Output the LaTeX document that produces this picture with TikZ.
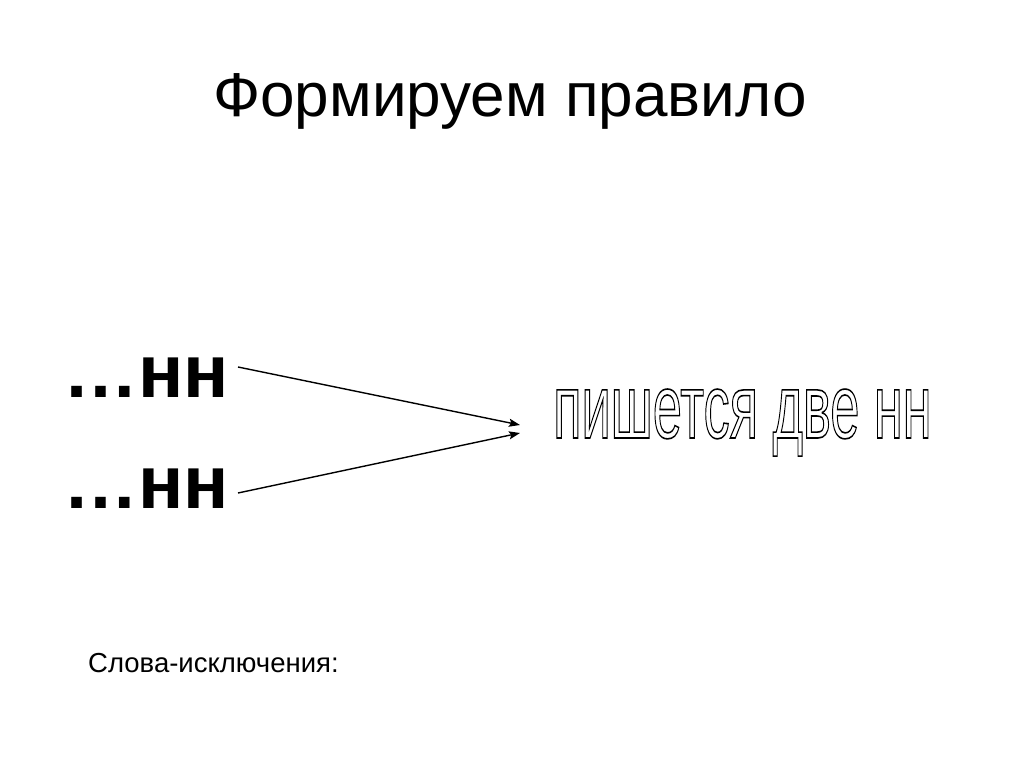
\documentclass[tikz,border=0pt]{standalone}
\usepackage{fontspec}
\setmainfont{Liberation Sans}
\usepackage{graphicx}
\usetikzlibrary{arrows.meta,positioning}

% outlined (hollow) letters
\newcommand{\hollow}[1]{\special{pdf:literal direct 1 Tr 1.6 w}#1\special{pdf:literal direct 0 Tr}}

\tikzset{
	arr/.style={line width=1.4pt,-{Stealth[length=11pt,width=8pt,inset=2pt]}},
	title/.style={font=\fontsize{62}{64}\selectfont,anchor=base,inner sep=0pt},
	ending/.style={font=\fontsize{75}{78}\selectfont\bfseries,anchor=base west,inner sep=0pt},
}

\begin{document}
\begin{tikzpicture}[x=1pt,y=-1pt]
	\useasboundingbox (0,0) rectangle (1024,767);

	\node[title] (head) at (510,117) {Формируем правило};

	\node[ending] (top) at (63,397) {…нн};
	\node[ending] (bot) at (63,508) {…нн};

	\node[anchor=base west,inner sep=0pt,font=\fontsize{91}{93}\selectfont] (rule) at (553,438)
		{\scalebox{0.575}[1]{\hollow{пишется две нн}}};

	\node[anchor=base west,inner sep=0pt,font=\fontsize{27.5}{29}\selectfont] (excl) at (88,672) {Слова-исключения:};

	\coordinate (s1) at (238,367);
	\coordinate (s2) at (238,493);
	\coordinate (t1) at (520,425);
	\coordinate (t2) at (520,433);

	\draw[arr] (s1) -- (t1);
	\draw[arr] (s2) -- (t2);
\end{tikzpicture}
\end{document}
